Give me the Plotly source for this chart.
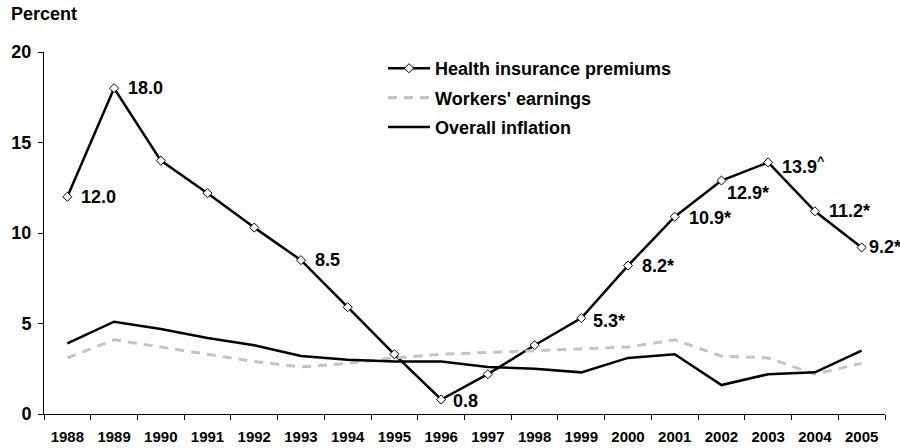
import plotly.graph_objects as go

# Annual percentage change, 1988-2005
years = [str(y) for y in range(1988, 2006)]
premiums = [12.0, 18.0, 14.0, 12.2, 10.3, 8.5, 5.9, 3.3, 0.8, 2.2,
            3.8, 5.3, 8.2, 10.9, 12.9, 13.9, 11.2, 9.2]
earnings = [3.1, 4.1, 3.7, 3.3, 2.9, 2.6, 2.8, 3.1, 3.3, 3.4,
            3.5, 3.6, 3.7, 4.1, 3.2, 3.1, 2.2, 2.8]
inflation = [3.9, 5.1, 4.7, 4.2, 3.8, 3.2, 3.0, 2.9, 2.9, 2.6,
             2.5, 2.3, 3.1, 3.3, 1.6, 2.2, 2.3, 3.5]

# Premium points carrying a value label, with their footnote marks
labeled_years = ["1988", "1989", "1993", "1996", "1999", "2000", "2001",
                 "2002", "2003", "2004", "2005"]
label_marks = ["", "", "", "", "*", "*", "*", "*", "^", "*", "*"]

y_ticks = [0, 5, 10, 15, 20]

FONT = "Liberation Sans, Arial, sans-serif"
BLACK = "#000000"
GREY = "#c4c4c4"

# label offsets in pixels (dx, dy) from the marker centre
label_offsets = {"1996": (10, -1), "1999": (10, -3), "2002": (4, -12),
                 "2003": (12, -3), "2005": (5, 0), "2001": (12, -1)}

fig = go.Figure()

fig.add_trace(go.Scatter(
    x=years, y=premiums, name="Health insurance premiums",
    mode="lines+markers", legendgroup="a",
    line=dict(color=BLACK, width=2.5),
    marker=dict(symbol="diamond", size=7, color="white",
                line=dict(color=BLACK, width=1)),
))
fig.add_trace(go.Scatter(
    x=years, y=earnings, name="Workers' earnings",
    mode="lines", legendgroup="b",
    line=dict(color=GREY, width=3, dash="9px,7px"),
))
fig.add_trace(go.Scatter(
    x=years, y=inflation, name="Overall inflation",
    mode="lines", legendgroup="c",
    line=dict(color=BLACK, width=2.5),
))

annotations = []
for yr, mark in zip(labeled_years, label_marks):
    i = years.index(yr)
    v = premiums[i]
    txt = f"{v:.1f}"
    if mark == "^":
        txt += "<sup>^</sup>"
    else:
        txt += mark
    dx, dy = label_offsets.get(yr, (12, 0))
    annotations.append(dict(
        x=i, y=v, xref="x", yref="y", text=txt, showarrow=False,
        xanchor="left", yanchor="middle", xshift=dx, yshift=dy,
        font=dict(family=FONT, size=18, color=BLACK, weight="bold"),
    ))

# axis caption above the y axis
annotations.append(dict(
    x=(9 - 44) / 841, y=(414 - 14) / 362, xref="paper", yref="paper",
    text="Percent", showarrow=False, xanchor="left", yanchor="middle",
    font=dict(family=FONT, size=18, color=BLACK, weight="bold"),
))

fig.update_layout(
    width=900, height=448,
    margin=dict(l=44, r=15, t=52, b=34, pad=0, autoexpand=False),
    paper_bgcolor="white", plot_bgcolor="white",
    font=dict(family=FONT, color=BLACK, weight="bold"),
    showlegend=True,
    legend=dict(
        x=(383 - 44) / 841, y=(414 - 50) / 362, xanchor="left", yanchor="top",
        font=dict(family=FONT, size=18, color=BLACK, weight="bold"),
        bgcolor="rgba(0,0,0,0)", borderwidth=0,
        tracegroupgap=3, itemwidth=42,
    ),
    annotations=annotations,
    xaxis=dict(
        type="category", range=[-0.5, 17.5], automargin=False,
        showline=True, linecolor=BLACK, linewidth=1,
        ticks="outside", ticklen=5, tickcolor=BLACK, tickson="boundaries",
        showgrid=False, zeroline=False, ticklabelstandoff=9,
        tickfont=dict(family=FONT, size=15, color=BLACK, weight="bold"),
    ),
    yaxis=dict(
        range=[0, 20], tickvals=y_ticks, automargin=False,
        showline=True, linecolor=BLACK, linewidth=1,
        ticks="outside", ticklen=5, tickcolor=BLACK,
        showgrid=False, zeroline=False, ticklabelstandoff=3,
        tickfont=dict(family=FONT, size=18, color=BLACK, weight="bold"),
    ),
)

fig.write_html("out.html")
